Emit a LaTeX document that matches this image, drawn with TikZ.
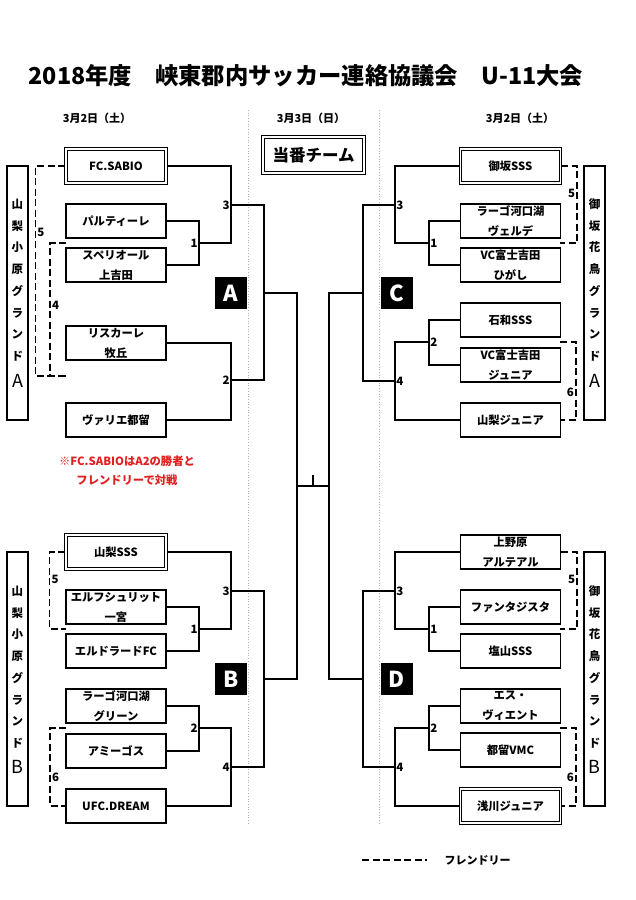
\documentclass[tikz,border=0pt]{standalone}
\usepackage{fontspec}
\setmainfont{Noto Sans CJK JP}
\usepackage{tikz}
\definecolor{notered}{RGB}{224,32,32}

\begin{document}
\begin{tikzpicture}[x=1pt, y=-1pt,
    team/.style={draw, line width=1.5pt, minimum width=100pt, minimum height=34pt, inner sep=0pt, align=center, font=\bfseries\fontsize{11.3}{20}\selectfont},
    duty/.style={team, double, line width=1.1pt, double distance=1.2pt},
    blk/.style={fill=black, text=white, minimum width=32pt, minimum height=32pt, inner sep=0pt, font=\bfseries\fontsize{22}{22}\selectfont},
    ground/.style={draw, line width=1.2pt, minimum width=21pt, minimum height=254pt, inner sep=0pt},
    gchar/.style={font=\bfseries\fontsize{11.5}{11.5}\selectfont, inner sep=0pt},
    gbig/.style={font=\fontsize{18}{18}\selectfont, inner sep=0pt},
    num/.style={font=\bfseries\fontsize{11.5}{11.5}\selectfont, inner sep=1.2pt},
    date/.style={font=\bfseries\fontsize{11}{11}\selectfont},
    wire/.style={line width=1.5pt},
    friendly/.style={line width=1.7pt, dash pattern=on 7pt off 3.5pt},
    daysep/.style={gray!60, dotted, line width=0.7pt}]
    \useasboundingbox[fill=white] (0,0) rectangle (636,900);

    \draw[daysep] (248,110) -- (248,823);
    \draw[daysep] (379,110) -- (379,823);

    \node[font=\bfseries\fontsize{23.3}{23.3}\selectfont] (title) at (306,76) {2018年度　峡東郡内サッカー連絡協議会　U-11大会};
    \node[date] (dayL) at (97,118) {3月2日（土）};
    \node[date] (dayM) at (311,118) {3月3日（日）};
    \node[date] (dayR) at (520,118) {3月2日（土）};
    \node[duty, minimum width=101pt, minimum height=36pt, font=\bfseries\fontsize{16.5}{16.5}\selectfont] (duty) at (313.5,155) {当番チーム};

    \node[duty] (a1) at (116,166) {FC.SABIO};
    \node[team] (a2) at (116,221) {パルティーレ};
    \node[team] (a3) at (116,265) {スペリオール\\上吉田};
    \node[team] (a4) at (116,343) {リスカーレ\\牧丘};
    \node[team] (a5) at (116,420) {ヴァリエ都留};

    \node[duty] (c1) at (510.5,166) {御坂SSS};
    \node[team] (c2) at (510.5,221) {ラーゴ河口湖\\ヴェルデ};
    \node[team] (c3) at (510.5,265) {VC富士吉田\\ひがし};
    \node[team] (c4) at (510.5,320) {石和SSS};
    \node[team] (c5) at (510.5,365) {VC富士吉田\\ジュニア};
    \node[team] (c6) at (510.5,420) {山梨ジュニア};

    \node[duty] (b1) at (116,552) {山梨SSS};
    \node[team] (b2) at (116,607) {エルフシュリット\\一宮};
    \node[team] (b3) at (116,651) {エルドラードFC};
    \node[team] (b4) at (116,706) {ラーゴ河口湖\\グリーン};
    \node[team] (b5) at (116,751) {アミーゴス};
    \node[team] (b6) at (116,806) {UFC.DREAM};

    \node[team] (d1) at (510.5,552) {上野原\\アルテアル};
    \node[team] (d2) at (510.5,607) {ファンタジスタ};
    \node[team] (d3) at (510.5,651) {塩山SSS};
    \node[team] (d4) at (510.5,706) {エス・\\ヴィエント};
    \node[team] (d5) at (510.5,750) {都留VMC};
    \node[duty] (d6) at (510.5,806) {浅川ジュニア};

    \node[ground] (gA) at (17.5,293) {};
    \node[ground] (gC) at (594.5,293) {};
    \node[ground] (gB) at (17.5,679) {};
    \node[ground] (gD) at (594.5,679) {};
    \foreach \ch [count=\i from 0] in {山,梨,小,原,グ,ラ,ン,ド} {
        \node[gchar] at (17.5,204+21.8*\i) {\ch};
        \node[gchar] at (17.5,591+21.8*\i) {\ch};
    }
    \foreach \ch [count=\i from 0] in {御,坂,花,鳥,グ,ラ,ン,ド} {
        \node[gchar] at (594.5,204+21.8*\i) {\ch};
        \node[gchar] at (594.5,591+21.8*\i) {\ch};
    }
    \node[gbig] at (17.5,381) {A};
    \node[gbig] at (594.5,381) {A};
    \node[gbig] at (17.5,767) {B};
    \node[gbig] at (594.5,767) {B};

    \coordinate (mA1) at (199,243);
    \coordinate (mA3) at (231,205);
    \coordinate (mA2) at (231,380);
    \coordinate (sA) at (264,293);
    \coordinate (mB1) at (199,629);
    \coordinate (mB3) at (231,591);
    \coordinate (mB2) at (199,728);
    \coordinate (mB4) at (231,767);
    \coordinate (sB) at (264,679);
    \coordinate (mC1) at (429,243);
    \coordinate (mC3) at (395,205);
    \coordinate (mC2) at (429,342);
    \coordinate (mC4) at (395,381);
    \coordinate (sC) at (363,293);
    \coordinate (mD1) at (429,629);
    \coordinate (mD3) at (395,591);
    \coordinate (mD2) at (429,728);
    \coordinate (mD4) at (395,767);
    \coordinate (sD) at (363,679);
    \coordinate (fL) at (297,486);
    \coordinate (fR) at (329,486);
    \coordinate (fin) at (313,486);

    \draw[wire] (a2.east) -| (mA1) |- (a3.east);
    \draw[wire] (a1.east) -| (mA3) |- (mA1);
    \draw[wire] (a4.east) -| (mA2) |- (a5.east);
    \draw[wire] (mA3) -| (sA) |- (mA2);
    \draw[wire] (b2.east) -| (mB1) |- (b3.east);
    \draw[wire] (b1.east) -| (mB3) |- (mB1);
    \draw[wire] (b4.east) -| (mB2) |- (b5.east);
    \draw[wire] (mB2) -| (mB4) |- (b6.east);
    \draw[wire] (mB3) -| (sB) |- (mB4);
    \draw[wire] (c2.west) -| (mC1) |- (c3.west);
    \draw[wire] (c1.west) -| (mC3) |- (mC1);
    \draw[wire] (c4.west) -| (mC2) |- (c5.west);
    \draw[wire] (mC2) -| (mC4) |- (c6.west);
    \draw[wire] (mC3) -| (sC) |- (mC4);
    \draw[wire] (d2.west) -| (mD1) |- (d3.west);
    \draw[wire] (d1.west) -| (mD3) |- (mD1);
    \draw[wire] (d4.west) -| (mD2) |- (d5.west);
    \draw[wire] (mD2) -| (mD4) |- (d6.west);
    \draw[wire] (mD3) -| (sD) |- (mD4);
    \draw[wire] (sA) -| (fL) |- (sB);
    \draw[wire] (sC) -| (fR) |- (sD);
    \draw[wire] (fL) -- (fR);
    \draw[wire] (fin) -- ++(0,-11);

    \node[num, left] at (mA1) {1};
    \node[num, left] at (mA3) {3};
    \node[num, left] at (mA2) {2};
    \node[num, left] at (mB1) {1};
    \node[num, left] at (mB3) {3};
    \node[num, left] at (mB2) {2};
    \node[num, left] at (mB4) {4};
    \node[num, right] at (mC1) {1};
    \node[num, right] at (mC3) {3};
    \node[num, right] at (mC2) {2};
    \node[num, right] at (mC4) {4};
    \node[num, right] at (mD1) {1};
    \node[num, right] at (mD3) {3};
    \node[num, right] at (mD2) {2};
    \node[num, right] at (mD4) {4};

    \node[blk] (lA) at (231,293) {A};
    \node[blk] (lB) at (231,679) {B};
    \node[blk] (lC) at (396.5,293) {C};
    \node[blk] (lD) at (396.5,679) {D};

    \coordinate (eA) at (66,376);
    \coordinate (sA4) at (66,243);
    \draw[friendly] (a1.west) -- ++(-30,0) |- node[num, right, pos=0.157] {5} (eA);
    \draw[friendly] (sA4) -- ++(-16,0) |- node[num, right, pos=0.233] {4} (eA);
    \coordinate (eB5) at (66,629);
    \coordinate (sB6) at (66,728);
    \draw[friendly] (b1.west) -- ++(-16,0) |- node[num, right, pos=0.175] {5} (eB5);
    \draw[friendly] (sB6) -- ++(-16,0) |- node[num, right, pos=0.315] {6} (b6.west);
    \coordinate (eC5) at (560,243);
    \coordinate (sC6) at (560,342);
    \draw[friendly] (c1.east) -- ++(16,0) |- node[num, left, pos=0.175] {5} (eC5);
    \draw[friendly] (sC6) -- ++(16,0) |- node[num, left, pos=0.32] {6} (c6.east);
    \coordinate (eD5) at (560,629);
    \coordinate (sD6) at (560,728);
    \draw[friendly] (d1.east) -- ++(16,0) |- node[num, left, pos=0.175] {5} (eD5);
    \draw[friendly] (sD6) -- ++(16,0) |- node[num, left, pos=0.315] {6} (d6.east);

    \node[text=notered, align=center, font=\bfseries\fontsize{11.3}{19}\selectfont] (note) at (127,471) {※FC.SABIOはA2の勝者と\\フレンドリーで対戦};

    \coordinate (keyL) at (362,860);
    \coordinate (keyR) at (427,860);
    \draw[friendly] (keyL) -- (keyR);
    \node[font=\bfseries\fontsize{11}{11}\selectfont, anchor=west] (key) at (441,860) {フレンドリー};
\end{tikzpicture}
\end{document}
